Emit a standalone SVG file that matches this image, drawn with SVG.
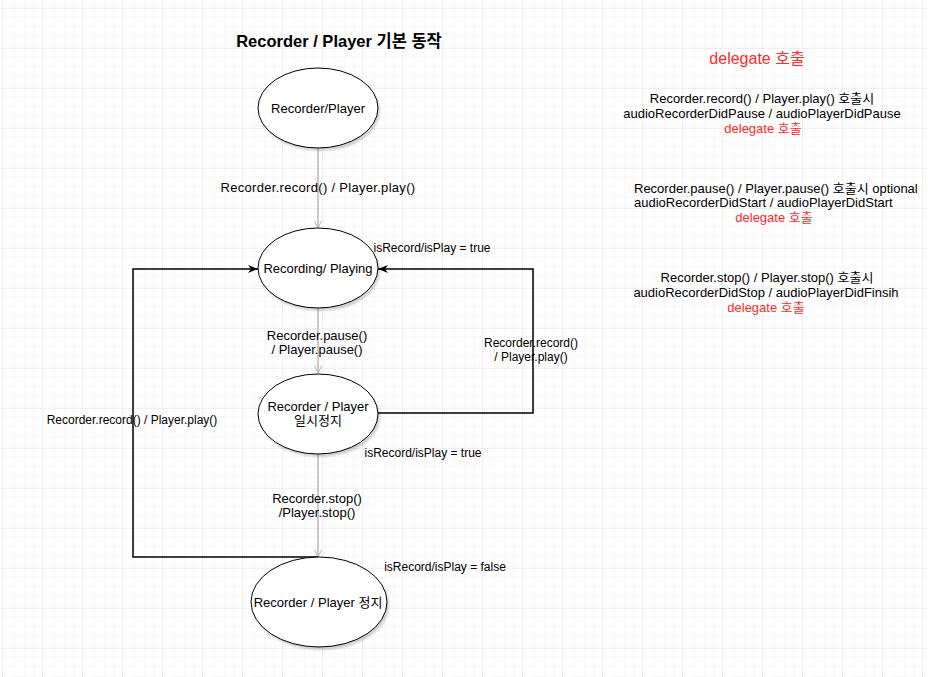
<svg xmlns="http://www.w3.org/2000/svg" width="928" height="677" viewBox="0 0 928 677">
  <defs>
    <pattern id="minor" x="2" y="8" width="10" height="10" patternUnits="userSpaceOnUse">
      <path d="M0,0 H10 M0,0 V10" stroke="#f2f2f2" stroke-width="1" fill="none"/>
    </pattern>
    <pattern id="major" x="2" y="8" width="40" height="40" patternUnits="userSpaceOnUse">
      <rect width="40" height="40" fill="url(#minor)"/>
      <path d="M0,0 H40 M0,0 V40" stroke="#e2e2e2" stroke-width="1" fill="none"/>
    </pattern>
    <marker id="arrBlack" viewBox="0 0 10 8" markerWidth="10" markerHeight="8" refX="10" refY="4" orient="auto" markerUnits="userSpaceOnUse">
      <path d="M0,0 L10,4 L0,8 L3,4 Z" fill="#000"/>
    </marker>
    <marker id="arrGray" viewBox="0 0 8 8" markerWidth="8" markerHeight="8" refX="7.5" refY="4" orient="auto" markerUnits="userSpaceOnUse">
      <path d="M0.5,0.5 L7.5,4 L0.5,7.5" fill="none" stroke="#b8b8b8" stroke-width="1"/>
    </marker>
    <filter id="blur" x="-10%" y="-10%" width="120%" height="120%">
      <feGaussianBlur stdDeviation="1"/>
    </filter>
  </defs>
  <style>
    text { font-family: "Liberation Sans", Arial, "Noto Sans CJK KR", sans-serif; font-size: 12px; fill: #000; }
    .c { text-anchor: middle; }
    .m { font-size: 13px; }
    .red { fill: #ff2a2a; }
    .node { fill: #fff; stroke: #000; stroke-width: 1; }
    .shadow { fill: #000; opacity: 0.18; filter: url(#blur); }
    .gray { stroke: #b8b8b8; stroke-width: 1.5; fill: none; marker-end: url(#arrGray); }
    .blk { stroke: #000; stroke-width: 1.5; fill: none; marker-end: url(#arrBlack); }
    .title { font-size: 16.5px; font-weight: bold; }
  </style>
  <rect width="928" height="677" fill="#fff"/>
  <rect width="928" height="677" fill="url(#major)"/>

  <text class="title c" x="339" y="47">Recorder / Player 기본 동작</text>

  <g id="connectors">
    <path class="gray" d="M318,148 V228"/>
    <path class="gray" d="M318,308 V373"/>
    <path class="gray" d="M318,454 V557"/>
    <path class="blk" d="M378,413 H533 V269 H378"/>
    <path class="blk" d="M318,557 H133 V269 H258"/>
    <text class="c m" x="318" y="192" style="letter-spacing:0.3px">Recorder.record() / Player.play()</text>
    <text class="c m" x="317" y="340">Recorder.pause()</text>
    <text class="c m" x="317" y="354">/ Player.pause()</text>
    <text class="c m" x="317" y="503">Recorder.stop()</text>
    <text class="c m" x="317" y="517">/Player.stop()</text>
    <text class="c" x="531" y="347">Recorder.record()</text>
    <text class="c" x="531" y="361">/ Player.play()</text>
    <text class="c" x="132" y="424">Recorder.record() / Player.play()</text>
  </g>

  <g id="node-recorder-player">
    <ellipse class="shadow" cx="320" cy="111" rx="60" ry="40"/>
    <ellipse class="node" cx="318" cy="108" rx="60" ry="40"/>
    <text class="c m" x="318" y="113">Recorder/Player</text>
  </g>

  <g id="node-recording">
    <ellipse class="shadow" cx="320" cy="271" rx="60" ry="40"/>
    <ellipse class="node" cx="318" cy="268" rx="60" ry="40"/>
    <text class="c m" x="318" y="273">Recording/ Playing</text>
  </g>

  <g id="node-pause">
    <ellipse class="shadow" cx="320" cy="417" rx="60" ry="40"/>
    <ellipse class="node" cx="318" cy="414" rx="60" ry="40"/>
    <text class="c m" x="318" y="411">Recorder / Player</text>
    <text class="c m" x="318" y="425">일시정지</text>
  </g>

  <g id="node-stop">
    <ellipse class="shadow" cx="321" cy="605" rx="68" ry="45"/>
    <ellipse class="node" cx="319" cy="602" rx="68" ry="45"/>
    <text class="c m" x="318" y="607">Recorder / Player 정지</text>
  </g>

  <g id="state-labels">
    <text class="c" x="432" y="252">isRecord/isPlay = true</text>
    <text class="c" x="423" y="457">isRecord/isPlay = true</text>
    <text class="c" x="445" y="571">isRecord/isPlay = false</text>
  </g>

  <g id="delegate-notes">
    <text class="c red" x="757" y="64" style="font-size:16px">delegate 호출</text>
    <text class="c m" x="762" y="103">Recorder.record() / Player.play() 호출시</text>
    <text class="c m" x="762" y="118">audioRecorderDidPause / audioPlayerDidPause</text>
    <text class="c m red" x="763" y="133">delegate 호출</text>

    <text class="m" x="634" y="193">Recorder.pause() / Player.pause() 호출시 optional</text>
    <text class="m" x="634" y="207">audioRecorderDidStart / audioPlayerDidStart</text>
    <text class="c m red" x="774" y="222">delegate 호출</text>

    <text class="c m" x="767" y="282">Recorder.stop() / Player.stop() 호출시</text>
    <text class="c m" x="766" y="297">audioRecorderDidStop / audioPlayerDidFinsih</text>
    <text class="c m red" x="766" y="312">delegate 호출</text>
  </g>
</svg>
